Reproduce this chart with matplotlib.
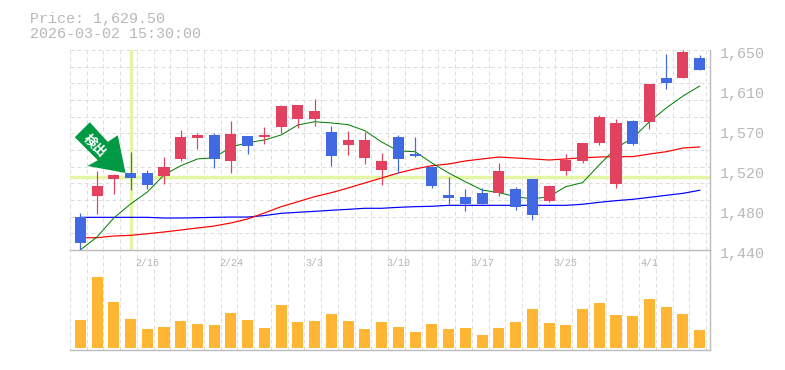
import matplotlib
matplotlib.use('Agg')
import matplotlib.pyplot as plt
from matplotlib.patches import Polygon
from matplotlib.transforms import Affine2D

# candles, oldest first
opens = [1474.6,1497.0,1514.5,1520.9,1520.9,1517.7,1535.6,1557.6,1560.8,1533.5,1559.7,1558.7,1569.2,1577.6,1577.6,1563.9,1550.3,1536.6,1524.0,1558.7,1540.8,1527.2,1497.8,1495.7,1499.9,1499.9,1504.1,1514.5,1491.5,1523.0,1533.5,1552.4,1509.3,1575.5,1574.4,1620.6,1620.6,1641.6]
highs = [1478.9,1523.0,1519.8,1542.9,1524.0,1537.7,1566.0,1562.9,1562.9,1575.5,1559.7,1569.2,1592.3,1592.3,1598.6,1570.2,1565.0,1563.9,1541.9,1560.8,1558.7,1528.2,1516.7,1504.1,1505.1,1531.4,1506.2,1514.5,1508.3,1540.8,1552.4,1581.8,1577.6,1576.5,1614.3,1645.8,1650.0,1644.8]
lows = [1438.2,1477.8,1498.8,1503.0,1504.1,1509.3,1533.5,1546.1,1526.1,1520.9,1540.8,1551.3,1562.9,1568.1,1570.2,1528.2,1539.8,1530.3,1508.3,1520.9,1537.7,1505.1,1488.3,1481.0,1488.3,1496.7,1482.0,1471.5,1490.4,1518.8,1531.4,1550.3,1505.1,1550.3,1567.0,1609.0,1620.6,1629.0]
closes = [1447.7,1507.2,1518.8,1515.6,1508.3,1527.2,1558.7,1560.8,1535.6,1561.8,1549.2,1560.8,1591.2,1592.3,1586.0,1538.7,1555.5,1555.5,1533.5,1535.6,1538.7,1507.2,1494.6,1488.3,1488.3,1523.0,1485.2,1476.8,1507.2,1534.5,1552.4,1579.7,1573.4,1551.3,1614.3,1615.4,1647.9,1629.0]

ma_short = [1440.0,1453.7,1473.6,1488.3,1500.9,1518.8,1528.5,1535.6,1536.9,1548.2,1552.7,1555.5,1560.8,1571.3,1574.7,1573.4,1571.6,1565.3,1553.4,1544.0,1543.2,1531.4,1520.9,1511.7,1503.0,1500.2,1496.0,1493.6,1496.0,1506.5,1510.7,1529.3,1547.1,1557.6,1574.7,1589.1,1601.7,1612.2]
ma_mid = [1452.9,1452.9,1454.7,1455.4,1457.1,1458.9,1461.0,1463.1,1465.2,1468.4,1472.6,1478.9,1485.5,1490.7,1496.0,1500.2,1505.1,1510.4,1515.6,1520.9,1525.1,1528.5,1530.3,1533.5,1535.6,1537.6,1536.6,1535.6,1534.5,1535.6,1536.9,1537.6,1538.0,1538.0,1540.8,1543.2,1547.1,1548.2]
ma_long = [1474.3,1474.3,1474.3,1474.3,1474.3,1473.6,1473.6,1473.9,1474.3,1474.6,1474.6,1476.2,1478.5,1479.6,1480.6,1481.7,1482.7,1483.8,1483.8,1484.8,1485.5,1485.9,1486.9,1486.9,1486.9,1486.9,1486.9,1486.9,1486.9,1486.9,1488.0,1490.1,1491.8,1493.2,1495.3,1497.4,1499.5,1502.7]

volumes = [84,213,138,87,57,63,81,72,69,105,84,60,129,78,81,102,81,57,78,63,48,72,57,60,39,60,78,117,75,69,117,135,99,96,147,123,102,54]

date_pos = [4,9,14,19,24,29,34]
date_labels = ['2/16','2/24','3/3','3/10','3/17','3/25','4/1']
price_ticks = [1440,1482,1524,1566,1608,1650]
price_labels = ['1,440','1,480','1,520','1,570','1,610','1,650']
cross_idx = 3
cross_price = 1516.6

RED = '#e2425f'
BLUE = '#4169e1'
GRID = '#dddddd'
FRAME = '#bbbbbb'
PX = 72/100
FONT = 'Liberation Mono'

fig = plt.figure(figsize=(7.85,3.7),dpi=100)
ax = fig.add_axes([70/785,120/370,640/785,200/370])
axv = fig.add_axes([70/785,20/370,640/785,100/370])

n = len(opens)
for a in (ax,axv):
    a.set_xlim(-0.615,n-0.385)
    for k in range(n+1):
        a.axvline(k-0.615,color=GRID,lw=PX,ls=(0,(4,3)),zorder=1)
    a.tick_params(length=0)
    a.set_xticks([])
    a.set_yticks([])
    for s in a.spines.values():
        s.set_visible(False)
    a.spines['right'].set_visible(True)
    a.spines['bottom'].set_visible(True)
    a.spines['right'].set_color(FRAME)
    a.spines['bottom'].set_color(FRAME)
    a.spines['right'].set_linewidth(1.0)
    a.spines['bottom'].set_linewidth(1.0)
    a.patch.set_alpha(0)

# price panel
ax.set_ylim(1440,1650)
for k in range(13):
    ax.axhline(1440+17.5*k,color=GRID,lw=PX,ls=(0,(4,3)),zorder=1)

ax.axhline(cross_price,color='#e4f5a4',lw=3.4*PX,zorder=2)
ax.axvline(cross_idx,ymin=0.01,color='#e4f5a4',lw=3.4*PX,zorder=2)

xs = list(range(n))
ax.plot(xs,ma_long,color='#0000ff',lw=1.2*PX,zorder=3)
ax.plot(xs,ma_mid,color='#ff0000',lw=1.2*PX,zorder=3)
ax.plot(xs,ma_short,color='#008000',lw=1.0*PX,zorder=3)

for i in xs:
    c = RED if closes[i]>=opens[i] else BLUE
    ax.vlines(i,lows[i],highs[i],color=c,lw=1.2*PX,zorder=4)
    ax.bar(i,abs(closes[i]-opens[i]),bottom=min(opens[i],closes[i]),width=0.66,color=c,zorder=4)

for p,l in zip(price_ticks,price_labels):
    ax.annotate(l,xy=(1,p),xycoords=('axes fraction','data'),xytext=(10*PX,-4*PX),
                textcoords='offset points',ha='left',va='center',family=FONT,fontsize=10.8,color='#b8b8b8')

# arrow marker, offsets in pixels from the tip which sits on candle 4
tip = ax.transData.transform((cross_idx-0.3,highs[cross_idx]-22))
arrow = Polygon([(-35.7,-50.7),(-17.7,-31),(-7.7,-37.7),(0,0),(-38,-7),(-27.7,-12.7),(-50.7,-35.7)],
                closed=True,facecolor='#009944',edgecolor='none',zorder=6,clip_on=False,
                transform=Affine2D().scale(1,-1).translate(*tip))
ax.add_patch(arrow)
ax.text(tip[0]-31,tip[1]+27,'検出',transform=None,rotation=-45,ha='center',va='center',color='white',
        fontsize=9.5,fontweight='bold',family=['Noto Sans CJK JP','DejaVu Sans'],zorder=7,rotation_mode='anchor')

# volume panel
axv.set_ylim(-6,294)
axv.bar(xs,volumes,width=0.66,color='#ffb733',zorder=3)
for p,l in zip(date_pos,date_labels):
    axv.annotate(l,xy=(p,1),xycoords=('data','axes fraction'),xytext=(0,-13*PX),
                 textcoords='offset points',ha='center',va='center',family=FONT,fontsize=7.2,color='#b4b4b4')

fig.text(30/785,1-18.5/370,'Price: 1,629.50',family=FONT,fontsize=10.8,color='#b8b8b8',ha='left',va='center')
fig.text(30/785,1-33.5/370,'2026-03-02 15:30:00',family=FONT,fontsize=10.8,color='#b8b8b8',ha='left',va='center')

fig.savefig('out.png',dpi=100)
